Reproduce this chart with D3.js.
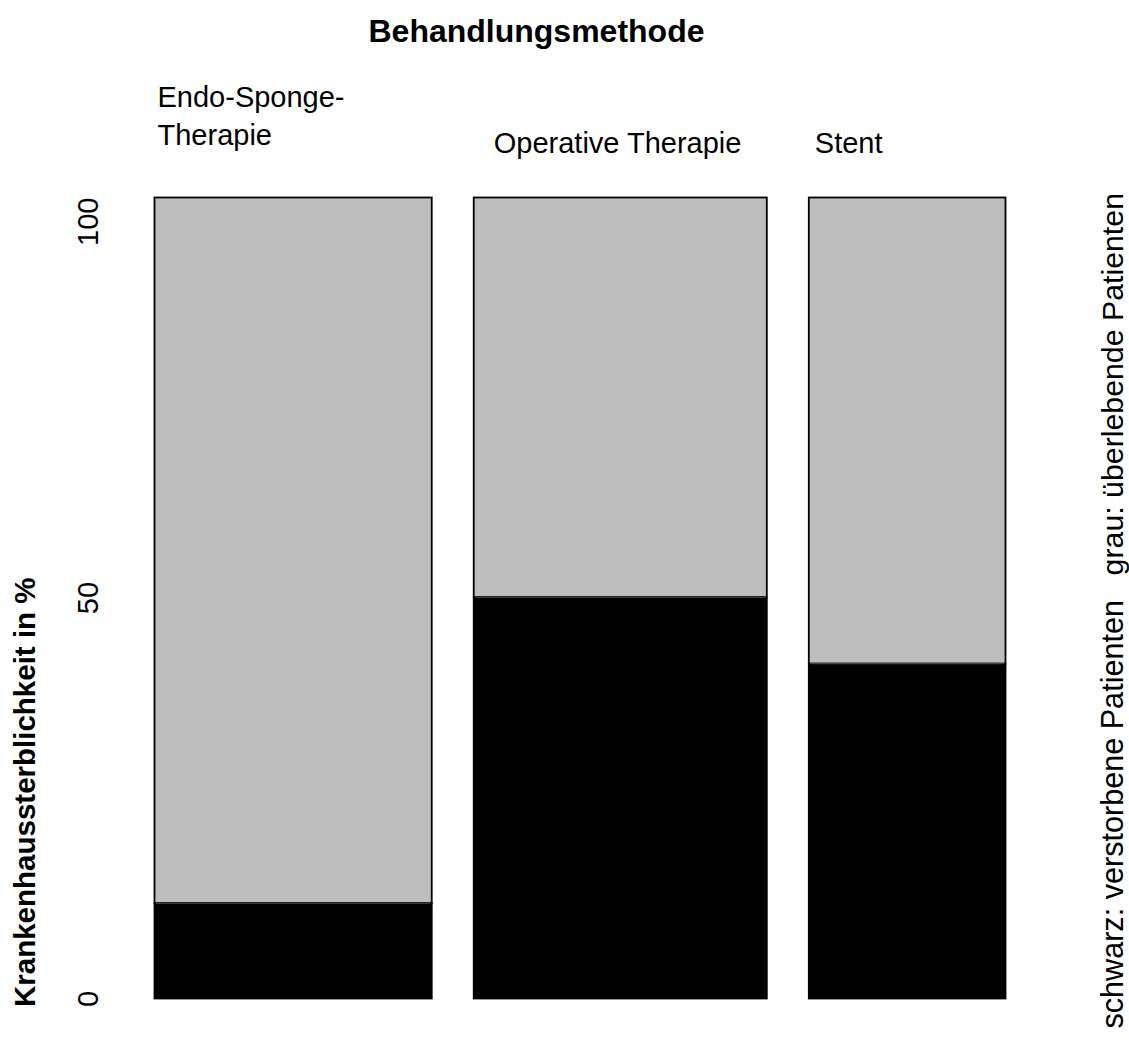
<!DOCTYPE html>
<html>
<head>
<meta charset="utf-8">
<script src="https://cdn.jsdelivr.net/npm/d3@7"></script>
<style>
  html, body { margin: 0; padding: 0; background: #fff; }
  svg { display: block; }
  text { font-family: "Liberation Sans", Arial, Helvetica, sans-serif; fill: #000; }
</style>
</head>
<body>
<svg id="chart" width="1129" height="1041"></svg>
<script>
// ---- data ----
const categories = ["Endo-Sponge-\nTherapie", "Operative Therapie", "Stent"];
const patientTotals = [42, 44.4, 29.8];          // relative column widths (patients)
const mortalityPct = [11.9, 50.1, 41.8];         // schwarz: verstorbene Patienten (%)
const yTicks = [0, 50, 100];
const chartTitle = "Behandlungsmethode";
const yTitle = "Krankenhaussterblichkeit in %";
const rightTop = "grau: überlebende Patienten";
const rightBottom = "schwarz: verstorbene Patienten";

// ---- layout ----
const plotLeft = 154.5, plotRight = 1005.5, plotTop = 197.5, plotBottom = 998.5;
const colGap = 42;
const svg = d3.select("#chart");

const totalW = plotRight - plotLeft - colGap * (categories.length - 1);
const wScale = d3.scaleLinear().domain([0, d3.sum(patientTotals)]).range([0, totalW]);
const yScale = d3.scaleLinear().domain([0, 100]).range([plotBottom, plotTop]);

let cum = 0;
const cols = categories.map((c, i) => {
  const x0 = plotLeft + wScale(cum) + i * colGap;
  const x1 = x0 + wScale(patientTotals[i]);
  cum += patientTotals[i];
  return { label: c, x0, x1, died: mortalityPct[i] };
});

const g = svg.append("g");
// survived (grey, upper)
g.selectAll("rect.surv").data(cols).join("rect")
  .attr("class", "surv")
  .attr("x", d => d.x0).attr("width", d => d.x1 - d.x0)
  .attr("y", yScale(100)).attr("height", d => yScale(d.died) - yScale(100))
  .attr("fill", "#bebebe").attr("stroke", "#000").attr("stroke-width", 1.8);
// died (black, lower)
g.selectAll("rect.died").data(cols).join("rect")
  .attr("class", "died")
  .attr("x", d => d.x0).attr("width", d => d.x1 - d.x0)
  .attr("y", d => yScale(d.died)).attr("height", d => yScale(0) - yScale(d.died))
  .attr("fill", "#000").attr("stroke", "#000").attr("stroke-width", 1.8);
// thin grey separating line (as in R output)
g.selectAll("line.sep").data(cols).join("line")
  .attr("x1", d => d.x0 + 1.5).attr("x2", d => d.x1 - 1.5)
  .attr("y1", d => yScale(d.died)).attr("y2", d => yScale(d.died))
  .attr("stroke", "#555").attr("stroke-width", 1);

// ---- column labels ----
const labelOffsets = [3, 20, 6];
cols.forEach((d, i) => {
  const lines = d.label.split("\n");
  const t = svg.append("text")
    .attr("font-size", 29)
    .attr("x", d.x0 + labelOffsets[i]);
  if (lines.length === 1) {
    t.attr("y", 153).text(lines[0]);
  } else {
    lines.forEach((ln, k) => {
      t.append("tspan").attr("x", d.x0 + labelOffsets[i]).attr("y", 107 + k * 38).text(ln);
    });
  }
});

// ---- title ----
svg.append("text")
  .attr("x", 536.5).attr("y", 41.5)
  .attr("text-anchor", "middle")
  .attr("font-size", 32).attr("font-weight", "bold")
  .text(chartTitle);

// ---- y tick labels (rotated) ----
yTicks.forEach(v => {
  svg.append("text")
    .attr("transform", `translate(98,${yScale(v) + (v === 0 ? 0.5 : 0)}) rotate(-90)`)
    .attr("text-anchor", v === 100 ? "end" : "middle")
    .attr("font-size", 29)
    .text(v);
});

// ---- y axis title ----
svg.append("text")
  .attr("transform", `translate(35,1007) rotate(-90)`)
  .attr("text-anchor", "start")
  .attr("font-size", 29.5).attr("font-weight", "bold")
  .text(yTitle);

// ---- right side legend texts ----
svg.append("text")
  .attr("transform", `translate(1123,193) rotate(-90)`)
  .attr("text-anchor", "end")
  .attr("font-size", 30.3)
  .text(rightTop);
svg.append("text")
  .attr("transform", `translate(1123,600) rotate(-90)`)
  .attr("text-anchor", "end")
  .attr("font-size", 30.6)
  .text(rightBottom);
</script>
</body>
</html>
